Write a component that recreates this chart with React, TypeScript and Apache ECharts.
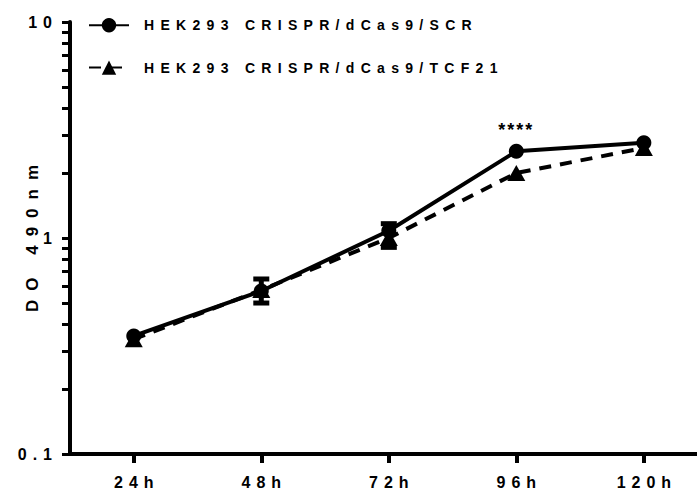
import React, { useEffect, useRef } from "react";
import * as echarts from "echarts";

const hours = [24, 48, 72, 96, 120];
const hourLabels = ["24h", "48h", "72h", "96h", "120h"];
const scrValues = [0.352, 0.568, 1.08, 2.52, 2.76];
const tcfValues = [0.34, 0.575, 1.0, 2.0, 2.61];
const scrErrLow = [null, 0.5, 0.905, null, null];
const scrErrHigh = [null, 0.646, 1.165, null, null];
const seriesNames = ["HEK293 CRISPR/dCas9/SCR", "HEK293 CRISPR/dCas9/TCF21"];
const yTickValues = [
  0.1, 0.2, 0.3, 0.4, 0.5, 0.6, 0.7, 0.8, 0.9, 1, 2, 3, 4, 5, 6, 7, 8, 9, 10,
];
const significance = "****";
const significanceIndex = 3;
const yAxisName = "DO 490nm";

const FONT = "Liberation Sans";

export default function App() {
  const ref = useRef<HTMLDivElement>(null);

  useEffect(() => {
    if (!ref.current) return;
    const chart = echarts.init(ref.current, undefined, { renderer: "svg" });

    const scrData = hours.map((h, i) =>
      i === significanceIndex
        ? {
            value: [h, scrValues[i]],
            label: {
              show: true,
              formatter: significance,
              position: "top",
              distance: 5,
              fontSize: 18,
              fontWeight: "bold",
              fontFamily: FONT,
              color: "#000",
            },
          }
        : { value: [h, scrValues[i]] }
    );
    const tcfData = hours.map((h, i) => [h, tcfValues[i]]);
    const errData = hours
      .map((h, i) => [h, scrErrLow[i], scrErrHigh[i]])
      .filter((d) => d[1] != null);

    chart.setOption({
      animation: false,
      grid: { left: 70, right: 0, top: 22, bottom: 39 },
      legend: {
        orient: "vertical",
        left: 88,
        top: 18,
        padding: 0,
        itemWidth: 40,
        itemHeight: 18,
        itemGap: 28,
        data: seriesNames,
        textStyle: {
          fontFamily: FONT,
          fontWeight: "bold",
          fontSize: 14,
          color: "#000",
          padding: [0, 0, 0, 10],
        },
      },
      xAxis: {
        type: "value",
        min: 12,
        max: 130,
        splitLine: { show: false },
        axisLine: { lineStyle: { color: "#000", width: 4 } },
        axisTick: {
          customValues: hours,
          length: 9,
          lineStyle: { color: "#000", width: 4 },
        },
        axisLabel: {
          customValues: hours,
          formatter: (v: number) => hourLabels[hours.indexOf(v)] ?? "",
          margin: 20,
          fontFamily: FONT,
          fontWeight: "bold",
          fontSize: 16,
          color: "#000",
          padding: [0, 0, 0, 6],
        },
      },
      yAxis: {
        type: "log",
        logBase: 10,
        min: 0.1,
        max: 10,
        name: yAxisName,
        nameLocation: "middle",
        nameGap: 29,
        nameMoveOverlap: false,
        nameTextStyle: {
          fontFamily: FONT,
          fontWeight: "bold",
          fontSize: 17,
          color: "#000",
          padding: [0, 0, 0, 8],
        },
        splitLine: { show: false },
        axisLine: { show: true, lineStyle: { color: "#000", width: 4 } },
        axisTick: {
          customValues: yTickValues,
          length: 8,
          lineStyle: { color: "#000", width: 3 },
        },
        axisLabel: {
          margin: 12,
          fontFamily: FONT,
          fontWeight: "bold",
          fontSize: 16,
          color: "#000",
        },
      },
      series: [
        {
          name: seriesNames[1],
          type: "line",
          data: tcfData,
          symbol: "triangle",
          symbolSize: [18, 16],
          itemStyle: { color: "#000" },
          lineStyle: { color: "#000", width: 4, type: [12, 9] },
          z: 2,
        },
        {
          name: seriesNames[0],
          type: "line",
          data: scrData,
          symbol: "circle",
          symbolSize: 15,
          itemStyle: { color: "#000" },
          lineStyle: { color: "#000", width: 4, type: "solid" },
          z: 3,
        },
        {
          type: "custom",
          data: errData,
          z: 4,
          renderItem: (params: any, api: any) => {
            const x = api.value(0);
            const lo = api.coord([x, api.value(1)]);
            const hi = api.coord([x, api.value(2)]);
            const half = 8;
            const style = { stroke: "#000", lineWidth: 5 };
            return {
              type: "group",
              children: [
                { type: "line", shape: { x1: lo[0], y1: lo[1], x2: hi[0], y2: hi[1] }, style },
                { type: "line", shape: { x1: hi[0] - half, y1: hi[1], x2: hi[0] + half, y2: hi[1] }, style },
                { type: "line", shape: { x1: lo[0] - half, y1: lo[1], x2: lo[0] + half, y2: lo[1] }, style },
              ],
            };
          },
        },
      ],
    });

    return () => chart.dispose();
  }, []);

  return (
    <>
      <style>{`
        body { margin: 0; }
        .chart text[style*="14px"] { letter-spacing: 6.3px; }
        .chart text[style*="16px"] { letter-spacing: 6px; }
        .chart text[style*="17px"] { letter-spacing: 9px; }
        .chart text[style*="18px"] { letter-spacing: 2px; }
      `}</style>
      <div
        ref={ref}
        className="chart"
        style={{ position: "absolute", left: 0, top: 0, width: 697, height: 493 }}
      />
    </>
  );
}
